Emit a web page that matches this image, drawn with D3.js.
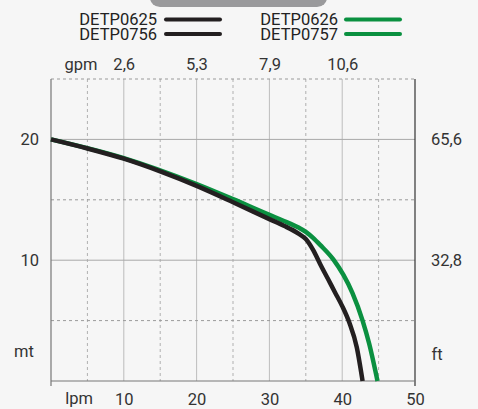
<!DOCTYPE html>
<html>
<head>
<meta charset="utf-8">
<script src="https://cdn.jsdelivr.net/npm/d3@7"></script>
<style>
  body { margin: 0; background: #f6f6f6; }
  svg { display: block; font-family: Roboto, sans-serif; }
</style>
</head>
<body>
<div id="chart"></div>
<script>
const WIDTH = 478;
const HEIGHT = 409;

// curvas: lpm -> mt
const blackLpm = [0, 5, 10, 15, 20, 25, 30, 32, 34, 35, 36, 37, 38, 39, 40, 41, 42, 42.8];
const blackMt  = [20, 19.25, 18.4, 17.35, 16.15, 14.8, 13.4, 12.85, 12.2, 11.75, 10.85, 9.65, 8.5, 7.35, 6.2, 4.8, 2.8, 0];
const greenLpm = [0, 10, 20, 25, 30, 32, 34, 35, 36, 37, 38.8, 40.15, 41.4, 42.8, 43.7, 44.85];
const greenMt  = [20, 18.45, 16.3, 15.05, 13.75, 13.25, 12.7, 12.35, 11.85, 11.25, 10.05, 8.8, 7.3, 5.0, 3.1, 0];

const legendBlack = ["DETP0625", "DETP0756"];
const legendGreen = ["DETP0626", "DETP0757"];

const lpmTicks = [10, 20, 30, 40, 50];
const gpmTicks = [2.64, 5.28, 7.93, 10.57];
const mtTicks = [10, 20];
const ftTicks = [32.8, 65.6];
const solidX = [10, 20, 30, 40];
const dashX = [5, 15, 25, 35, 45];
const solidY = [10, 20];
const dashY = [5, 15, 25];

const svg = d3.select("#chart").append("svg")
    .attr("width", WIDTH)
    .attr("height", HEIGHT);

svg.append("rect").attr("width", WIDTH).attr("height", HEIGHT).attr("fill", "#f6f6f6");

// barra gris arriba
svg.append("rect")
    .attr("x", 150).attr("y", -12)
    .attr("width", 177).attr("height", 19)
    .attr("rx", 10)
    .attr("fill", "#9a9a9c");

const x = d3.scaleLinear().domain([0, 50]).range([51, 415]);
const y = d3.scaleLinear().domain([0, 25]).range([381, 79]);
const xGpm = d3.scaleLinear().domain([0, 50 / 3.785]).range([51, 415]);
const yFt = d3.scaleLinear().domain([0, 25 * 3.2808]).range([381, 79]);

const grid = svg.append("g");

grid.selectAll(".vs").data(solidX).enter().append("line")
    .attr("x1", d => x(d)).attr("x2", d => x(d))
    .attr("y1", y(25)).attr("y2", y(0))
    .attr("stroke", "#bdbdbd").attr("stroke-width", 1);

grid.selectAll(".vd").data(dashX).enter().append("line")
    .attr("x1", d => x(d)).attr("x2", d => x(d))
    .attr("y1", y(25)).attr("y2", y(0))
    .attr("stroke", "#b0b0b0").attr("stroke-width", 1)
    .attr("stroke-dasharray", "3,3");

grid.selectAll(".hs").data(solidY).enter().append("line")
    .attr("x1", x(0)).attr("x2", x(50))
    .attr("y1", d => y(d)).attr("y2", d => y(d))
    .attr("stroke", "#a8a8a8").attr("stroke-width", 1);

grid.selectAll(".hd").data(dashY).enter().append("line")
    .attr("x1", x(0)).attr("x2", x(50))
    .attr("y1", d => y(d)).attr("y2", d => y(d))
    .attr("stroke", "#9a9a9a").attr("stroke-width", 1)
    .attr("stroke-dasharray", "3,3");

// bordes
svg.append("line").attr("x1", x(0)).attr("x2", x(0)).attr("y1", y(25)).attr("y2", y(0) + 5)
    .attr("stroke", "#777").attr("stroke-width", 1.2);
svg.append("line").attr("x1", x(50)).attr("x2", x(50)).attr("y1", y(25)).attr("y2", y(0) + 5)
    .attr("stroke", "#333").attr("stroke-width", 1.2);
svg.append("line").attr("x1", x(0)).attr("x2", x(50)).attr("y1", y(0)).attr("y2", y(0))
    .attr("stroke", "#777").attr("stroke-width", 1.2);

// curvas
const line = d3.line()
    .x(d => x(d[0]))
    .y(d => y(d[1]))
    .curve(d3.curveMonotoneX);

const greenPts = greenLpm.map((d, i) => [d, greenMt[i]]);
const blackPts = blackLpm.map((d, i) => [d, blackMt[i]]);

svg.append("path").datum(greenPts)
    .attr("d", line).attr("fill", "none")
    .attr("stroke", "#0a9040").attr("stroke-width", 4.5);

svg.append("path").datum(blackPts)
    .attr("d", line).attr("fill", "none")
    .attr("stroke", "#231f20").attr("stroke-width", 4.5);

// ejes (solo textos)
const fmt = d => d3.format(".1f")(d).replace(".", ",");
const txtColor = "#333";
const fontSize = "16.5px";

function styleAxis(g) {
    g.select(".domain").remove();
    g.selectAll("text").attr("fill", txtColor).style("font-size", fontSize).style("font-family", "Roboto, sans-serif");
}

svg.append("g").attr("transform", `translate(0,${y(0) + 4})`)
    .call(d3.axisBottom(x).tickValues(lpmTicks).tickSize(0).tickPadding(8))
    .call(styleAxis);

svg.append("g").attr("transform", `translate(0,${y(25) - 4})`)
    .call(d3.axisTop(xGpm).tickValues(gpmTicks).tickSize(0).tickPadding(5).tickFormat(fmt))
    .call(styleAxis);

svg.append("g").attr("transform", `translate(${x(0) - 12},0)`)
    .call(d3.axisLeft(y).tickValues(mtTicks).tickSize(0).tickPadding(0))
    .call(styleAxis);

svg.append("g").attr("transform", `translate(${x(50) + 16},0)`)
    .call(d3.axisRight(yFt).tickValues(ftTicks).tickSize(0).tickPadding(0).tickFormat(fmt))
    .call(styleAxis);

// unidades
const units = [
    { t: "gpm", x: 81, y: 70 },
    { t: "lpm", x: 79, y: 404 },
    { t: "mt", x: 24, y: 357 },
    { t: "ft", x: 437, y: 360 }
];
svg.selectAll(".unit").data(units).enter().append("text")
    .attr("x", d => d.x).attr("y", d => d.y)
    .attr("text-anchor", "middle")
    .attr("fill", txtColor)
    .style("font-size", fontSize)
    .text(d => d.t);

// leyenda
function legend(names, color, textRight, lineX) {
    const t = svg.append("text")
        .attr("text-anchor", "end")
        .attr("fill", "#222")
        .style("font-size", "16.5px");
    names.forEach((n, i) => {
        t.append("tspan")
            .attr("x", textRight).attr("y", 25 + i * 14.5)
            .text(n);
        svg.append("line")
            .attr("x1", lineX).attr("x2", lineX + 54)
            .attr("y1", 19.5 + i * 14.5).attr("y2", 19.5 + i * 14.5)
            .attr("stroke", color).attr("stroke-width", 4)
            .attr("stroke-linecap", "round");
    });
}
legend(legendBlack, "#231f20", 157, 166);
legend(legendGreen, "#0a9040", 338, 346);
</script>
</body>
</html>
